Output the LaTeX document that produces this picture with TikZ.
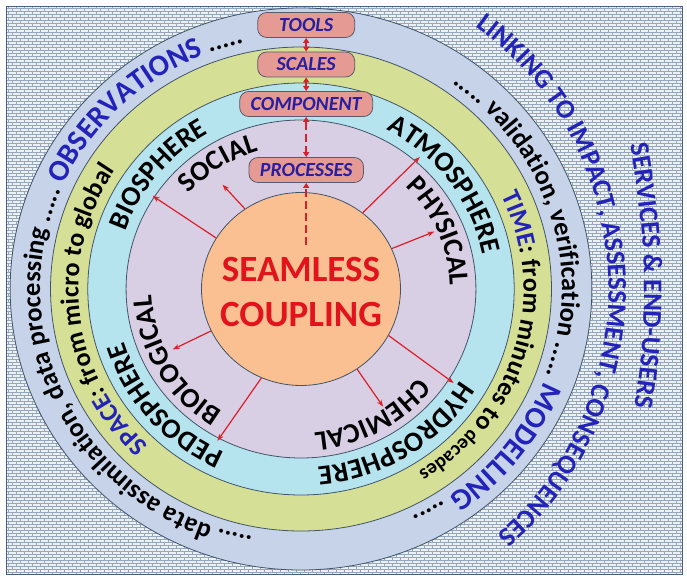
\documentclass[tikz,border=0pt]{standalone}
\usepackage{fontspec}
\setmainfont{Carlito}
\usetikzlibrary{arrows.meta,decorations.text,shapes.geometric,patterns}

\definecolor{framefill}{RGB}{236,241,246}
\definecolor{framebrick}{RGB}{150,166,186}
\definecolor{frameline}{RGB}{70,95,130}
\definecolor{obsblue}{RGB}{198,211,233}
\definecolor{scalegreen}{RGB}{213,223,150}
\definecolor{spherecyan}{RGB}{182,228,238}
\definecolor{procviolet}{RGB}{217,207,229}
\definecolor{coreorange}{RGB}{250,192,145}
\definecolor{ringline}{RGB}{65,85,105}
\definecolor{boxfill}{RGB}{229,155,148}
\definecolor{boxline}{RGB}{90,90,110}
\definecolor{boxtext}{RGB}{40,30,160}
\definecolor{keyblue}{RGB}{35,35,185}
\definecolor{seamred}{RGB}{225,20,30}
\definecolor{arrowred}{RGB}{220,30,40}

% small bricks for the background
\pgfdeclarepatternformonly{tinybricks}{\pgfpoint{-0.5pt}{-0.5pt}}{\pgfpoint{8.5pt}{6.5pt}}{\pgfpoint{8pt}{6pt}}{
  \pgfsetlinewidth{0.7pt}
  \pgfpathmoveto{\pgfpoint{0pt}{0pt}}\pgfpathlineto{\pgfpoint{8pt}{0pt}}
  \pgfpathmoveto{\pgfpoint{0pt}{3pt}}\pgfpathlineto{\pgfpoint{8pt}{3pt}}
  \pgfpathmoveto{\pgfpoint{0pt}{0pt}}\pgfpathlineto{\pgfpoint{0pt}{3pt}}
  \pgfpathmoveto{\pgfpoint{4pt}{3pt}}\pgfpathlineto{\pgfpoint{4pt}{6pt}}
  \pgfusepath{stroke}}

\newcommand{\ringfont}{\fontsize{28}{30}\selectfont\bfseries}
\newcommand{\bandfont}{\fontsize{26}{28}\selectfont\bfseries}
\newcommand{\smallbandfont}{\fontsize{20}{22}\selectfont\bfseries}
\newcommand{\outerfont}{\fontsize{26.5}{28}\selectfont\bfseries}
\newcommand{\bigfont}{\fontsize{30}{32}\selectfont\bfseries}
\newcommand{\linkfont}{\fontsize{27}{29}\selectfont\bfseries}

% text on a clockwise arc: centre angle, radius, half span, text
\newcommand{\arctext}[4]{%
  \path[decorate, decoration={text along path, text align=center, text={#4}}]
    ({#1+#3}:#2) arc[start angle={#1+#3}, end angle={#1-#3}, radius=#2];}

\tikzset{
  ring/.style={draw=ringline, line width=0.8pt},
  stage/.style={draw=boxline, line width=0.8pt, fill=boxfill, rounded corners=9pt,
    minimum height=25pt, inner xsep=11pt, text=boxtext,
    font=\fontsize{20}{21}\selectfont\bfseries\itshape},
  ray/.style={draw=arrowred, line width=1.2pt, -{Stealth[length=7pt,width=5pt]}},
  updown/.style={draw=arrowred, line width=2pt, {Triangle[length=5pt,width=6pt]}-{Triangle[length=5pt,width=6pt]}},
}

\begin{document}
\begin{tikzpicture}[x=1.035pt, y=1pt]
  \useasboundingbox (-301pt,-289pt) rectangle (386pt,289pt);

  % the frame behind everything
  \fill[framefill] (-294pt,-285pt) rectangle (381pt,282pt);
  \fill[pattern=tinybricks, pattern color=framebrick] (-294pt,-285pt) rectangle (381pt,282pt);
  \draw[frameline, line width=1pt] (-294pt,-285pt) rectangle (381pt,282pt);

  % draw the rings, from outside to inside
  \filldraw[ring, fill=obsblue] (0,0) circle[radius=281];
  \filldraw[ring, fill=scalegreen] (0,0) circle[radius=242];
  \filldraw[ring, fill=spherecyan] (0,0) circle[radius=206];
  \filldraw[ring, fill=procviolet] (0,0) circle[radius=169];

  % the texts of the outer ring
  \arctext{181}{252}{95}{|\outerfont|..... data assimilation, data processing ..... |\bigfont\color{keyblue}|OBSERVATIONS|\outerfont\color{black}| .....}
  \arctext{-5}{252}{85}{|\outerfont|..... validation, verification ..... |\bigfont\color{keyblue}|MODELLING|\outerfont\color{black}| .....}

  % space and time
  \arctext{186.5}{215}{70}{|\bandfont\color{keyblue}|SPACE|\bandfont\color{black}|: from micro to global}
  \arctext{-16}{215}{70}{|\bandfont\color{keyblue}|TIME|\bandfont\color{black}|: from minutes to |\smallbandfont\color{black}|decades}

  % the spheres
  \arctext{141}{179}{50}{|\ringfont|BIOSPHERE}
  \arctext{36.5}{179}{50}{|\ringfont|ATMOSPHERE}
  \arctext{-57.5}{179}{50}{|\ringfont|HYDROSPHERE}
  \arctext{221}{179}{50}{|\ringfont|PEDOSPHERE}

  % the processes
  \arctext{123}{144}{50}{|\ringfont|SOCIAL}
  \arctext{23}{144}{50}{|\ringfont|PHYSICAL}
  \arctext{-61}{144}{50}{|\ringfont|CHEMICAL}
  \arctext{210}{144}{50}{|\ringfont|BIOLOGICAL}

  % outside the circles
  \path[decorate, decoration={text along path, text align=center,
      text={|\linkfont\color{keyblue}|LINKING TO IMPACT, ASSESSMENT, CONSEQUENCES}}]
    (75:297 and 319) arc[start angle=75, end angle=-70, x radius=297, y radius=319];
  \path[decorate, decoration={text along path, text align=center,
      text={|\linkfont\color{keyblue}|SERVICES {\&} END-USERS}}]
    ([shift={(-413pt,0pt)}]16:756pt) arc[start angle=16, end angle=-14, radius=756pt];

  % the core
  \node[ellipse, ring, fill=coreorange, minimum width=199pt, minimum height=193pt] (core) at (0,0) {};
  \node[align=center, text=seamred, font=\fontsize{37}{45}\selectfont\bfseries] (seam) at (0,-3.5) {SEAMLESS\\COUPLING};

  % end points of the red arrows
  \coordinate (social) at (126:129);
  \coordinate (biosphere) at (147:171);
  \coordinate (atmosphere) at (49:175);
  \coordinate (physical) at (24:141);
  \coordinate (hydrosphere) at (-32.5:175);
  \coordinate (chemical) at (-56:142);
  \coordinate (biological) at (206:138);
  \coordinate (pedosphere) at (242:172);
  \coordinate (coreIn) at (5,44);

  % draw the arrows
  \draw[ray] (core.125) -- (social);
  \draw[ray] (core.149) -- (biosphere);
  \draw[ray] (core.51) -- (atmosphere);
  \draw[ray] (core.24) -- (physical);
  \draw[ray] (core.-28) -- (hydrosphere);
  \draw[ray] (core.-55) -- (chemical);
  \draw[ray] (core.205) -- (biological);
  \draw[ray] (core.246) -- (pedosphere);

  % the boxes on top
  \node[stage, minimum width=97pt] (tools) at (5,264) {TOOLS};
  \node[stage, minimum width=97pt] (scales) at (5,224.5) {SCALES};
  \node[stage] (component) at (5,185) {COMPONENT};
  \node[stage] (processes) at (5,119) {PROCESSES};

  \draw[updown] (tools.south) -- (scales.north);
  \draw[updown] (scales.south) -- (component.north);
  \draw[updown, dash pattern=on 8pt off 4pt] (component.south) -- (processes.north);
  \draw[draw=arrowred, line width=2pt, dash pattern=on 8pt off 4pt, -{Triangle[length=5pt,width=6pt]}] (coreIn) -- (processes.south);
\end{tikzpicture}
\end{document}
